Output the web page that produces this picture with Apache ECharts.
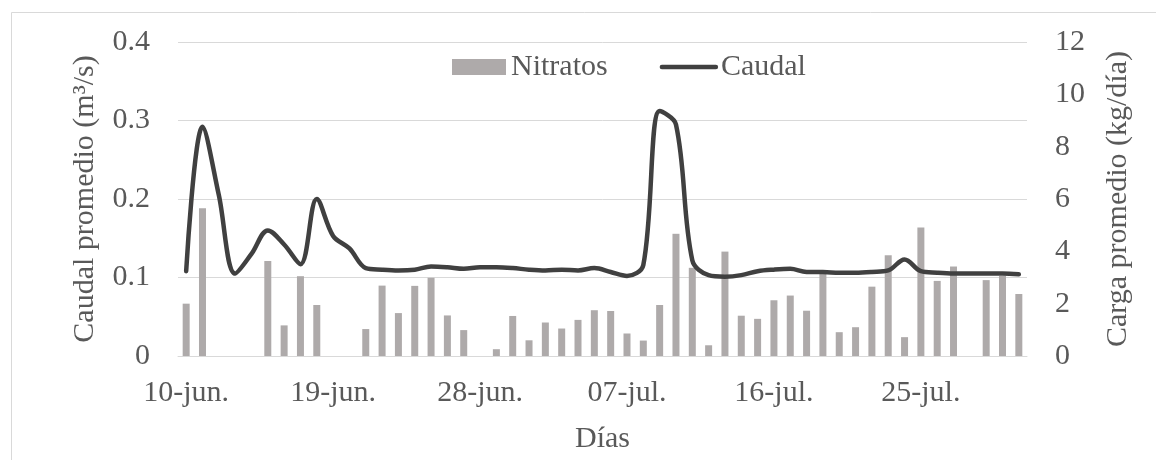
<!DOCTYPE html>
<html>
<head>
<meta charset="utf-8">
<script src="https://cdn.jsdelivr.net/npm/echarts@6/dist/echarts.min.js"></script>
<style>
  html, body { margin: 0; padding: 0; background: #fff; }
  #main { width: 1156px; height: 460px; }
</style>
</head>
<body>
<div id="main"></div>
<script>
// dias (10-jun. a 31-jul.)
var dias = [
  '10-jun.', '11-jun.', '12-jun.', '13-jun.', '14-jun.', '15-jun.', '16-jun.', '17-jun.', '18-jun.',
  '19-jun.', '20-jun.', '21-jun.', '22-jun.', '23-jun.', '24-jun.', '25-jun.', '26-jun.', '27-jun.',
  '28-jun.', '29-jun.', '30-jun.', '01-jul.', '02-jul.', '03-jul.', '04-jul.', '05-jul.', '06-jul.',
  '07-jul.', '08-jul.', '09-jul.', '10-jul.', '11-jul.', '12-jul.', '13-jul.', '14-jul.', '15-jul.',
  '16-jul.', '17-jul.', '18-jul.', '19-jul.', '20-jul.', '21-jul.', '22-jul.', '23-jul.', '24-jul.',
  '25-jul.', '26-jul.', '27-jul.', '28-jul.', '29-jul.', '30-jul.', '31-jul.'
];

// carga de nitratos (kg/dia), eje derecho
var nitratos = [
  2.0, 5.65, null, null, null, 3.63, 1.17, 3.05, 1.95,
  null, null, 1.03, 2.69, 1.64, 2.68, 2.99, 1.55, 0.99,
  null, 0.26, 1.53, 0.6, 1.28, 1.05, 1.38, 1.75, 1.72,
  0.86, 0.59, 1.95, 4.67, 3.37, 0.41, 3.99, 1.54, 1.42,
  2.13, 2.31, 1.73, 3.15, 0.91, 1.1, 2.65, 3.85, 0.72,
  4.91, 2.87, 3.42, null, 2.9, 3.06, 2.37
];

// caudal promedio (m3/s), eje izquierdo
var caudal = [
  0.108, 0.292, 0.205, 0.105, 0.13, 0.16, 0.142, 0.117, 0.2,
  0.153, 0.137, 0.112, 0.11, 0.109, 0.11, 0.114, 0.113, 0.111,
  0.113, 0.113, 0.112, 0.11, 0.109, 0.11, 0.109, 0.112, 0.107,
  0.102, 0.116, 0.312, 0.295, 0.122, 0.103, 0.101, 0.103, 0.108,
  0.11, 0.111, 0.107, 0.107, 0.106, 0.106, 0.107, 0.109, 0.123,
  0.108, 0.106, 0.105, 0.105, 0.105, 0.105, 0.104
];

var fuente = 'Liberation Serif, Times New Roman, serif';
var gris = '#595959';

var chart = echarts.init(document.getElementById('main'));

chart.setOption({
  animation: false,
  backgroundColor: '#fff',
  textStyle: { fontFamily: fuente },
  graphic: [{
    type: 'rect',
    shape: { x: 11.5, y: 12.5, width: 1200, height: 500 },
    style: { fill: 'none', stroke: '#D9D9D9', lineWidth: 1 },
    silent: true
  }],
  grid: { left: 178, right: 129, top: 42, bottom: 104 },
  legend: {
    left: 452,
    top: 52,
    padding: 0,
    itemWidth: 54,
    itemHeight: 16,
    itemGap: 52,
    textStyle: { fontFamily: fuente, fontSize: 30, color: gris, padding: [0, 0, 0, 0] },
    data: [
      { name: 'Nitratos', icon: 'rect' },
      {
        name: 'Caudal',
        itemStyle: { opacity: 0 },
        lineStyle: { color: '#404040', width: 4.5, cap: 'round' }
      }
    ]
  },
  xAxis: {
    type: 'category',
    data: dias,
    name: 'Días',
    nameLocation: 'middle',
    nameGap: 68,
    nameTextStyle: { fontFamily: fuente, fontSize: 30, color: gris },
    axisLine: { lineStyle: { color: '#D9D9D9' } },
    axisTick: { show: false },
    axisLabel: { interval: 8, fontFamily: fuente, fontSize: 30, color: gris, margin: 22 }
  },
  yAxis: [{
    type: 'value',
    min: 0,
    max: 0.4,
    interval: 0.1,
    name: 'Caudal promedio (m³/s)',
    nameLocation: 'middle',
    nameGap: 78,
    nameTextStyle: { fontFamily: fuente, fontSize: 30, color: gris },
    axisLine: { show: false },
    axisTick: { show: false },
    splitLine: { lineStyle: { color: '#D9D9D9', width: 1 } },
    axisLabel: { fontFamily: fuente, fontSize: 30, color: gris, margin: 28 }
  }, {
    type: 'value',
    min: 0,
    max: 12,
    interval: 2,
    name: 'Carga promedio (kg/día)',
    nameLocation: 'middle',
    nameGap: 76,
    nameTextStyle: { fontFamily: fuente, fontSize: 30, color: gris },
    axisLine: { show: false },
    axisTick: { show: false },
    splitLine: { show: false },
    axisLabel: { fontFamily: fuente, fontSize: 30, color: gris, margin: 28 }
  }],
  series: [{
    name: 'Nitratos',
    type: 'bar',
    yAxisIndex: 1,
    barWidth: 7,
    itemStyle: { color: '#AEAAAA' },
    data: nitratos
  }, {
    name: 'Caudal',
    type: 'line',
    yAxisIndex: 0,
    smooth: 0.35,
    symbol: 'none',
    lineStyle: { color: '#404040', width: 4.5, cap: 'round' },
    itemStyle: { color: '#404040' },
    data: caudal
  }]
});
</script>
</body>
</html>
